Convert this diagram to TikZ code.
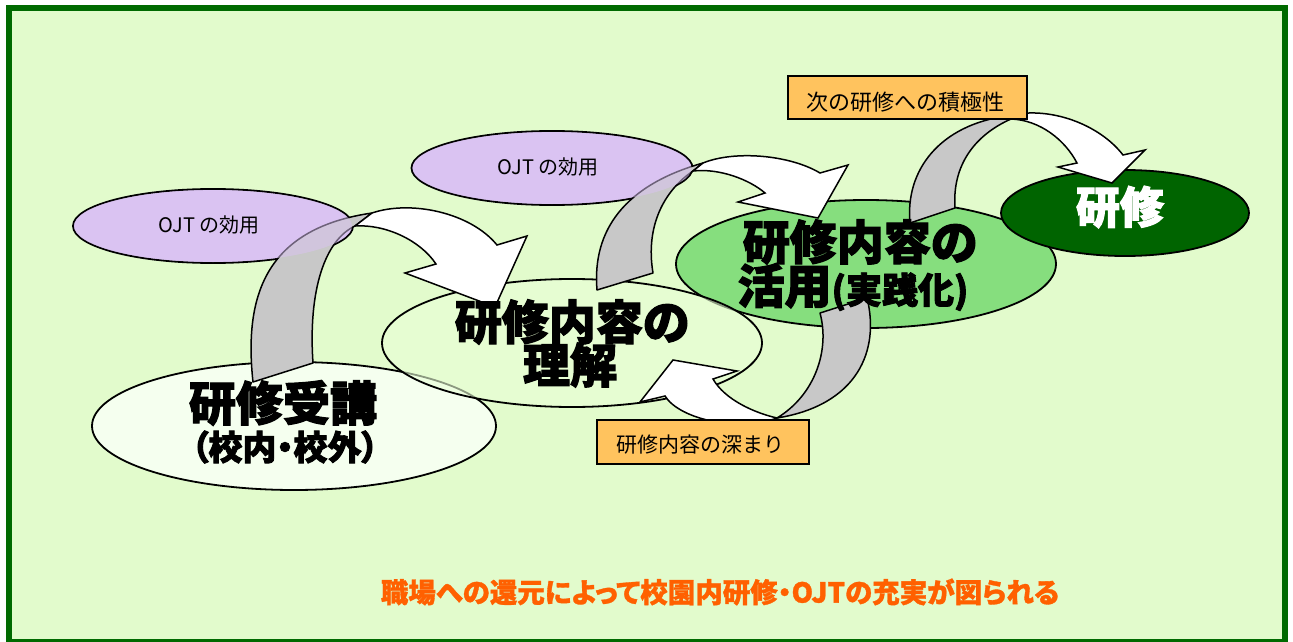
\documentclass[tikz,border=0pt]{standalone}
\usepackage{fontspec}
\newfontfamily\jp{Noto Sans CJK JP}
\newfontfamily\jph{Noto Sans CJK JP}[RawFeature=+palt, BoldFeatures={FakeBold=2.5}]
\newfontfamily\jpm{Noto Sans CJK JP}[RawFeature=+palt, BoldFeatures={FakeBold=1.2}]
\usetikzlibrary{shapes.geometric}
\definecolor{bg}{HTML}{E2FBCC}
\definecolor{frame}{HTML}{006A00}
\definecolor{ojt}{HTML}{DAC3F2}
\definecolor{juko}{HTML}{F5FFEF}
\definecolor{rikai}{HTML}{E9FFD6}
\definecolor{katsu}{HTML}{86DE7E}
\definecolor{dkgreen}{HTML}{006400}
\definecolor{boxor}{HTML}{FFC35E}
\definecolor{backgray}{HTML}{C8C8C8}
\definecolor{orangetxt}{HTML}{FF6000}
\tikzset{
  ell/.style={ellipse, draw=black, line width=1.8pt, inner sep=0pt},
  backpart/.style={fill=backgray, draw=black, line width=1.5pt, line join=round},
  frontpart/.style={fill=white, draw=black, line width=1.5pt, line join=miter},
  obox/.style={rectangle, fill=boxor, draw=black, line width=1.5pt, inner sep=0pt},
  small/.style={font=\jp\fontsize{20}{24}\selectfont, inner sep=0pt},
  big/.style={font=\jph\bfseries\fontsize{47}{52}\selectfont, inner sep=0pt},
}
\begin{document}
\begin{tikzpicture}[x=1pt,y=-1pt]
\fill[white] (0,0) rectangle (1293,642);
\useasboundingbox (0,0) rectangle (1293,642);
\draw[line width=6pt, draw=frame, fill=bg] (9,8.5) rectangle (1285,642);

% ellipses
\node[ell, fill=juko, minimum width=404, minimum height=128] (juko) at (294,426) {};
\node[ell, fill=katsu, minimum width=380, minimum height=128] (katsu) at (866,264) {};
\node[ell, fill=rikai, fill opacity=0.6, draw opacity=1, minimum width=380, minimum height=128] (rikai) at (572,343) {};
\node[ell, fill=ojt, minimum width=280, minimum height=74] (ojtA) at (213,226) {};
\node[ell, fill=ojt, minimum width=281, minimum height=74] (ojtB) at (552,168) {};
\node[ell, fill=dkgreen, minimum width=248, minimum height=86] (kenshu) at (1125,213) {};

% arrow A
\filldraw[backpart] (253,382) .. controls (243,290) and (270,228) .. (372,213) -- (355,226) .. controls (325,240) and (308,290) .. (313,363) -- cycle;
\filldraw[frontpart] (372,213) .. controls (410,200) and (470,212) .. (497,245) -- (527,236) -- (495,307) -- (405,273) -- (436,264) .. controls (420,240) and (385,224) .. (355,226) -- cycle;
% arrow B
\filldraw[backpart] (597,290) .. controls (592,230) and (625,185) .. (703,163) -- (693,171) .. controls (665,190) and (645,225) .. (653,273) -- cycle;
\filldraw[frontpart] (703,163) .. controls (735,150) and (790,155) .. (820,173) -- (848,165) -- (818,218) -- (738,202) -- (765,193) .. controls (750,180) and (720,168) .. (693,171) -- cycle;
% arrow C
\filldraw[backpart] (910,223) .. controls (905,170) and (940,125) .. (1007,116) -- (1011,119) .. controls (975,135) and (952,165) .. (955,208) -- cycle;
\filldraw[frontpart] (1007,116) .. controls (1050,105) and (1100,125) .. (1123,155) -- (1145,150) -- (1112,183) -- (1058,167) -- (1077,163) .. controls (1065,140) and (1040,120) .. (1011,119) -- cycle;
% arrow D
\filldraw[backpart] (820,313) -- (867,298) .. controls (880,350) and (858,405) .. (777,418) .. controls (815,395) and (830,350) .. (820,313) -- cycle;
\filldraw[frontpart] (777,418) .. controls (740,432) and (680,420) .. (665,396) -- (640,402) -- (673,360) -- (737,371) -- (713,379) .. controls (725,400) and (755,413) .. (777,418) -- cycle;

% purple tint of OJT ellipses over the arrows
\fill[ojt, fill opacity=0.5] (ojtA.center) ellipse [x radius=139, y radius=36];
\fill[ojt, fill opacity=0.5] (ojtB.center) ellipse [x radius=139.5, y radius=36];

% boxes
\node[obox, minimum width=239, minimum height=43] (box1) at (907.5,97.5) {};
\node[obox, minimum width=212, minimum height=44] (box2) at (703,442) {};

% texts
\node[small] (tA) at (209,225) {OJT の効用};
\node[small] (tB) at (548,167) {OJT の効用};
\node[big, font=\jph\bfseries\fontsize{47}{52}\selectfont] (tj1) at (283,403) {研修受講};
\node[big, font=\jph\bfseries\fontsize{34}{40}\selectfont] (tj2) at (285,447) {（校内・校外）};
\node[big] (tr1) at (572,322) {研修内容の};
\node[big] (tr2) at (570,365) {理解};
\node[big] (tk1) at (860,242) {研修内容の};
\node[big] (tk2) at (853,287) {活用{\fontsize{36}{40}\selectfont(実践化)}};
\node[big, text=white, font=\jph\bfseries\fontsize{44}{48}\selectfont] (tks) at (1120,207) {研修};
\node[small, font=\jp\fontsize{22}{26}\selectfont] (tb1) at (905,102) {次の研修への積極性};
\node[small, font=\jp\fontsize{21}{25}\selectfont] (tb2) at (700,445) {研修内容の深まり};
\node[inner sep=0pt, text=orangetxt, font=\jpm\bfseries\fontsize{27.5}{32}\selectfont] (tbot) at (720,592) {職場への還元によって校園内研修・OJTの充実が図られる};
\end{tikzpicture}
\end{document}
